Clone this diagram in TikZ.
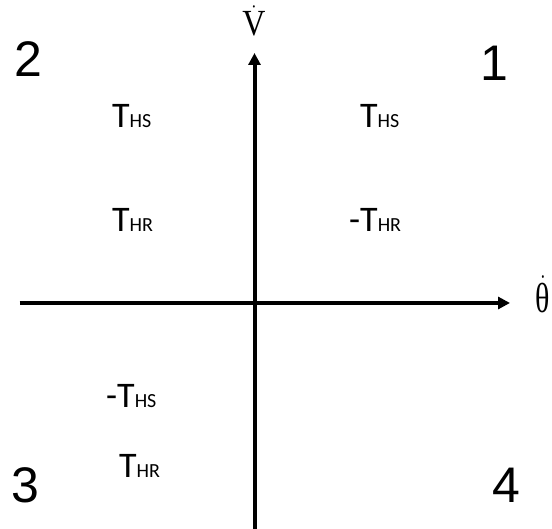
\documentclass[tikz,border=0pt]{standalone}
\usepackage{fontspec}
\usepackage{graphicx}
\usetikzlibrary{arrows.meta,positioning,calc}
\newfontfamily\labelfont{Carlito}
\newfontfamily\quadfont{Liberation Sans}
\newfontfamily\axisfont{Liberation Serif}
\newcommand{\Tsub}[1]{T{\fontsize{20}{20}\selectfont #1}}
\newcommand{\Axlab}[3]{\scalebox{1}[#2]{\fontsize{#1}{#1}\selectfont$\dot{\hbox{#3}}$}}

\begin{document}
\begin{tikzpicture}[x=1pt,y=1pt,
  axis/.style={line width=4pt,-{Triangle[length=12pt,width=12pt]}},
  torque/.style={inner sep=0pt,anchor=base west,font=\labelfont\fontsize{36}{36}\selectfont},
  quadrant/.style={inner sep=0pt,font=\quadfont\fontsize{50}{50}\selectfont},
  axlabel/.style={inner sep=0pt,font=\axisfont}]
\useasboundingbox (0,0) rectangle (552,529);
\coordinate (left) at (19.5,226);
\coordinate (right) at (510,226);
\coordinate (bottom) at (254.5,0);
\coordinate (top) at (254.5,476);
\draw[axis] (left) -- (right);
\draw[axis] (bottom) -- (top);
\node[axlabel] (vdot) at (254,508) {\Axlab{32}{1.15}{V}};
\node[axlabel] (thdot) at (543,235) {\Axlab{30}{1.4}{θ}};
% quadrant numbers
\node[quadrant] (q1) at (494,466) {1};
\node[quadrant] (q2) at (28,470) {2};
\node[quadrant] (q3) at (25,44) {3};
\node[quadrant] (q4) at (506,44) {4};
% torques
\node[torque] (hs1) at (360,401) {\Tsub{HS}};
\node[torque] (hr1) at (349,297) {-\Tsub{HR}};
\node[torque] (hs2) at (112,401) {\Tsub{HS}};
\node[torque] (hr2) at (112,297) {\Tsub{HR}};
\node[torque] (hs3) at (106,121) {-\Tsub{HS}};
\node[torque] (hr3) at (119,51) {\Tsub{HR}};
\end{tikzpicture}
\end{document}
